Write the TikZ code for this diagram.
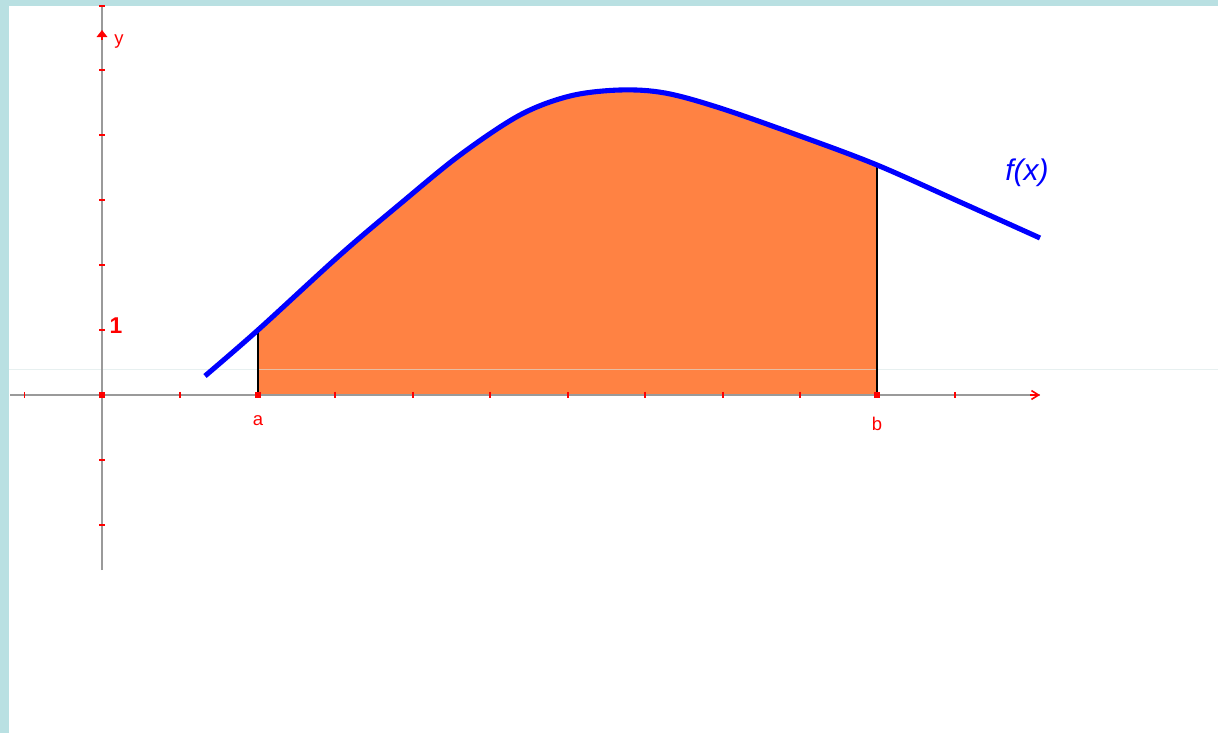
\documentclass[tikz,border=0pt]{standalone}
\usepackage{fontspec}
\setmainfont{Liberation Sans}
\usetikzlibrary{arrows.meta}
\definecolor{framecol}{HTML}{B9E0E2}
\definecolor{axisgray}{HTML}{9A9A9A}
\definecolor{areaorange}{HTML}{FF8243}
\definecolor{curveblue}{HTML}{0000FF}
\definecolor{tickred}{HTML}{FF0000}
\definecolor{artifact}{HTML}{D8E6E6}
\tikzset{
  axisline/.style={draw=axisgray, line width=1.4pt},
  tickmark/.style={draw=tickred, line width=0.9pt},
  boundline/.style={draw=black, line width=1.2pt},
  curvestyle/.style={draw=curveblue, line width=2.9pt},
  redlabel/.style={text=tickred, font=\fontsize{10.5}{12}\selectfont, inner sep=0pt},
  pointdot/.style={fill=tickred, minimum size=3pt, inner sep=0pt, draw=none, rectangle}
}
\begin{document}
\begin{tikzpicture}[x=0.02cm,y=-0.02cm]
\useasboundingbox (0,0) rectangle (1218,733);
\fill[white] (0,0) rectangle (1218,733);
\fill[framecol] (0,0) rectangle (1218,6);
\fill[framecol] (0,0) rectangle (9,733);

% coordinates
\coordinate (O) at (102,395);
\coordinate (xl) at (10,395);
\coordinate (xr) at (1040,395);
\coordinate (yb) at (102,570);
\coordinate (yt) at (102,6);
\coordinate (ya) at (102,30);
\coordinate (A) at (258,395);
\coordinate (B) at (877,395);
\coordinate (fA) at (258,330);
\coordinate (fB) at (877,165);
\coordinate (artl) at (9,369);
\coordinate (artr) at (1218,369);

% shaded area
\begin{scope}
\clip (A) rectangle (877,0);
\fill[areaorange] plot[smooth, tension=0.55] coordinates {(205,376) (258,330) (340,255) (400,204) (460,155) (520,115) (570,96) (620,90) (665,93) (720,108) (800,136) (877,165) (960,202) (1040,238)} -- (1040,395) -- (205,395) -- cycle;
\end{scope}

% faint artifact line
\draw[artifact, opacity=0.6, line width=0.5pt] (artl) -- (artr);

% axes
\draw[axisline] (xl) -- (xr);
\draw[axisline] (yb) -- (yt);
\draw[tickred, line width=0.9pt, -{Straight Barb[length=4pt,width=5pt]}] (1030,395) -- (xr);
\draw[tickred, line width=0.9pt, -{Triangle[length=4pt,width=6pt]}] (102,40) -- (ya);

% x ticks
\foreach \t in {24.5,180,335,413,490,568,645,723,800,955}
  \draw[tickmark] (\t,392) -- (\t,398);
% y ticks
\foreach \t in {6,70,135,200,265,330,460,525}
  \draw[tickmark] (99,\t) -- (105,\t);

% boundary lines
\draw[boundline] (A) -- (fA);
\draw[boundline] (B) -- (fB);

% curve
\draw[curvestyle] plot[smooth, tension=0.55] coordinates {(205,376) (258,330) (340,255) (400,204) (460,155) (520,115) (570,96) (620,90) (665,93) (720,108) (800,136) (877,165) (960,202) (1040,238)};

% points
\node[pointdot] (po) at (O) {};
\node[pointdot] (pa) at (A) {};
\node[pointdot] (pb) at (B) {};

% labels
\node[redlabel] (la) at (258,421) {a};
\node[redlabel] (lb) at (877,424) {b};
\node[redlabel, font=\bfseries\fontsize{13}{14}\selectfont] (lone) at (116,326) {1};
\node[redlabel] (ly) at (119,42) {y};
\node[text=curveblue, font=\itshape\fontsize{17}{19}\selectfont, inner sep=0pt] (lf) at (1027,173) {f(x)};
\end{tikzpicture}
\end{document}
